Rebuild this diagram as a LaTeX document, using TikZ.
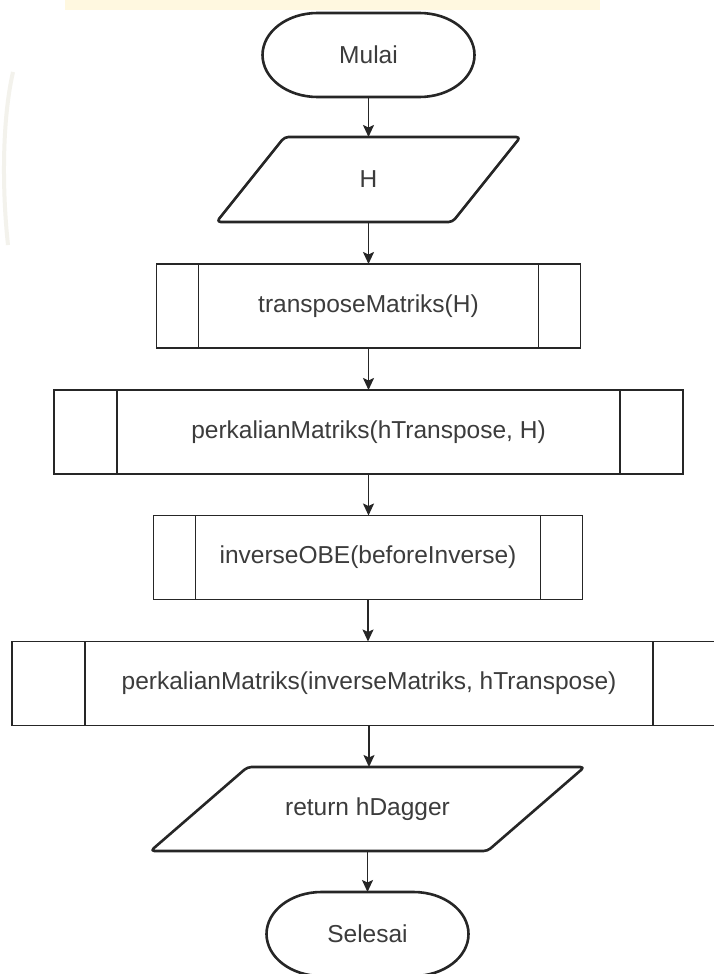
\documentclass[tikz,border=0pt]{standalone}
\usepackage{fontspec}
\setmainfont{Liberation Sans}
\usetikzlibrary{arrows.meta,calc}
\definecolor{edge}{HTML}{262626}
\definecolor{label}{HTML}{3C3C3C}
\definecolor{seal}{HTML}{FFF8E0}
\definecolor{sealrim}{HTML}{F3F2EC}

% vertical bars of a predefined-process box
\newcommand\sidebars[2]{%
  \draw[thin] ($(#1.north west)+(#2,0)$) -- ($(#1.south west)+(#2,0)$);
  \draw[thin] ($(#1.north east)+(-#2,0)$) -- ($(#1.south east)+(-#2,0)$);}
% input/output parallelogram around a node
\newcommand\slanted[2]{%
  \draw[bold, rounded corners=4pt] ($(#1.north west)+(#2,0)$) -- (#1.north east)
    -- ($(#1.south east)+(-#2,0)$) -- (#1.south west) -- cycle;}
% terminator with elliptic ends around a node
\newcommand\capsule[2]{%
  \draw[bold] ($(#1.north west)+(#2,0)$) -- ($(#1.north east)+(-#2,0)$)
    arc[start angle=90, end angle=-90, x radius=#2pt, y radius=42pt]
    -- ($(#1.south west)+(#2,0)$)
    arc[start angle=270, end angle=90, x radius=#2pt, y radius=42pt] -- cycle;}

\begin{document}
\begin{tikzpicture}[x=1pt, y=-1pt,
  every node/.style={inner sep=0pt, outer sep=0pt,
    font=\fontsize{24.5}{29}\selectfont, text=label},
  slot/.style={rectangle, minimum width=#1, minimum height=84pt},
  proc/.style={rectangle, draw=edge, line width=1.6pt, minimum height=84pt},
  bold/.style={draw=edge, line width=2.6pt, line join=round},
  thin/.style={draw=edge, line width=1.6pt},
  flow/.style={draw=edge, line width=1.8pt,
    -{Stealth[length=12pt, width=11pt, inset=2.5pt]}},
]
\useasboundingbox (0,0) rectangle (714,974);
\fill[white] (0,0) rectangle (714,974);

% faint seal in the background
\fill[seal] (65,0) rectangle (600,10);
\draw[sealrim, line width=4pt] (13,72) .. controls (2,120) and (2,190) .. (8,245);

% steps
\node[slot=212pt] (start) at (368.5,55) {Mulai};
\node[slot=304pt, minimum height=85pt] (hin) at (368.5,179.5) {H};
\node[proc, minimum width=424pt] (tr) at (368.5,306) {transposeMatriks(H)};
\node[proc, minimum width=629pt] (m1) at (368.5,432) {perkalianMatriks(hTranspose, H)};
\node[proc, minimum width=429pt] (inv) at (368,557.5) {inverseOBE(beforeInverse)};
\node[proc, minimum width=714pt] (m2) at (369,683.5) {perkalianMatriks(inverseMatriks, hTranspose)};
\node[slot=434pt] (ret) at (367.5,809) {return hDagger};
\node[slot=202pt] (stop) at (367.5,934) {Selesai};

% outlines
\capsule{start}{55}
\slanted{hin}{68}
\sidebars{tr}{42}
\sidebars{m1}{63}
\sidebars{inv}{42}
\sidebars{m2}{73}
\slanted{ret}{97}
\capsule{stop}{55}

% connectors
\draw[flow] (start.south) -- (start.south |- hin.north);
\draw[flow] (hin.south) -- (hin.south |- tr.north);
\draw[flow] (tr.south) -- (tr.south |- m1.north);
\draw[flow] (m1.south) -- (m1.south |- inv.north);
\draw[flow] (inv.south) -- (inv.south |- m2.north);
\draw[flow] (m2.south) -- (m2.south |- ret.north);
\draw[flow] (ret.south) -- (ret.south |- stop.north);
\end{tikzpicture}
\end{document}
